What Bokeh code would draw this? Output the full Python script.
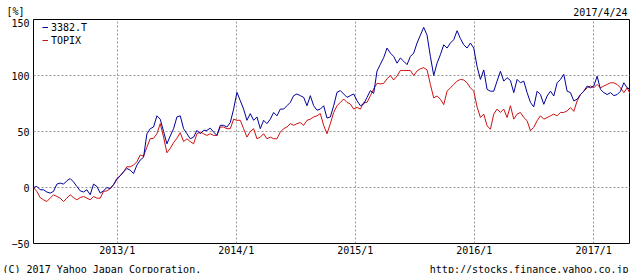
import pandas as pd
from bokeh.plotting import figure
from bokeh.layouts import column, row
from bokeh.models import Range1d, FixedTicker, Label, Legend, LegendItem, ColumnDataSource
from bokeh.embed import file_html
from bokeh.resources import INLINE

start_date = "2012-04-19"
end_date = "2017-04-24"
stock_name = "3382.T"
index_name = "TOPIX"
unit_text = "[%]"
date_text = "2017/4/24"
copyright_text = "(C) 2017 Yahoo Japan Corporation."
url_text = "http://stocks.finance.yahoo.co.jp"

stock_pct = [
    0, 1, -2, -2, -4, -5, -3.5, 3, 4, 3,
    6, 8, 5, 1, -3, -4, -2, -6.5, 3, 1,
    -5, -3, 0, -1, 2.5, 8, 10.5, 14, 17, 15.5,
    12.5, 20, 24.5, 27, 48, 52.5, 54, 64, 61, 50,
    39, 46, 52.5, 63, 64, 52.5, 48, 43.5, 45, 51,
    48, 51, 51, 53, 49.5, 46.5, 55.5, 55.5, 54, 58,
    70, 85, 77.5, 70, 60, 66, 60, 63, 52.5, 60,
    57, 61, 67, 64, 70, 70, 73, 76, 82, 83.5,
    82, 80.5, 73, 82, 73, 69, 70, 73, 62, 63,
    73, 85, 86.5, 83.5, 80.5, 82, 83.5, 77.5, 73, 74.5,
    80.5, 86.5, 84, 104, 110, 116, 124.5, 120, 117, 111,
    115.6, 112.7, 109.7, 117, 120, 129, 136, 143, 136, 117,
    100, 111, 118.6, 127.4, 124.5, 129, 132, 140, 133, 127.4,
    124.5, 129, 124.5, 108, 96.5, 105, 87.6, 86, 86, 95,
    103.8, 95, 98, 95.5, 84.7, 96.5, 93.5, 95, 84.7, 76,
    72, 86, 83, 74.3, 81.7, 86, 81.7, 93.5, 96.5, 101,
    86, 84.7, 77.3, 78.8, 83, 86, 90.6, 89, 90.6, 99.4,
    87.6, 84.7, 83, 84.7, 82, 83, 86, 93.5, 89, 87.6,
]

topix_pct = [
    0, -3.5, -9, -11, -12.5, -9.5, -6.5, -8, -9.5, -12.5,
    -9.5, -6.5, -9, -11, -9, -8, -9.5, -11, -8, -9.5,
    -9.5, -3.5, -3, -1, 2.5, 7, 10.5, 14, 18.5, 18.5,
    20, 23, 29, 28, 36, 43.5, 44, 48, 57, 45,
    31, 35, 40, 44, 49, 41, 43.5, 41, 39, 48,
    49.5, 48, 46.5, 48, 46.5, 46.5, 54, 54, 52.5, 52.5,
    61, 60, 60, 52.5, 45, 50, 52.5, 43.5, 45, 48,
    43.5, 45, 43.5, 43.5, 49.5, 52.5, 54, 57, 55.5, 57,
    58, 55.5, 60, 61, 63, 64, 66, 55.5, 48, 57,
    67, 73, 76, 79, 76, 74.5, 70, 71.5, 70, 76,
    76, 82, 88, 93, 92.5, 93, 97, 100, 96, 99.5,
    104.5, 104.5, 104.5, 104.5, 100, 104, 106, 107, 105, 92,
    80, 81.7, 78.8, 74, 86, 89, 92, 95, 96.5, 96,
    93.5, 89, 86, 72, 62.5, 65.5, 55, 52, 65.5, 70,
    67, 70, 62.5, 73, 61, 65.5, 67, 62.5, 59.6, 50.7,
    53.7, 59.6, 64, 61, 62.5, 64, 65.5, 64, 67, 67,
    68.4, 71.4, 68, 77.3, 83, 86, 89, 90.6, 89, 92,
    89, 90.6, 92, 93.5, 93.5, 92, 89, 84.7, 89, 83,
]

year_ticks = ["2013-01-01", "2014-01-01", "2015-01-01", "2016-01-01", "2017-01-01"]
year_labels = ["2013/1", "2014/1", "2015/1", "2016/1", "2017/1"]
y_ticks = [-50, 0, 50, 100, 150]
y_grid = [0, 50, 100]

dates = pd.date_range(start_date, end_date, periods=len(stock_pct))
src = ColumnDataSource(dict(date=dates, stock=stock_pct, topix=topix_pct))

FONT = "DejaVu Sans Mono"
W = 630


def strip(h):
    s = figure(width=W, height=h, output_backend="svg", toolbar_location=None,
               x_axis_location=None, y_axis_location=None,
               x_range=Range1d(0, 1), y_range=Range1d(0, 1),
               min_border=0, min_border_left=0, min_border_right=0,
               min_border_top=0, min_border_bottom=0)
    s.outline_line_color = None
    s.background_fill_color = "white"
    s.border_fill_color = "white"
    s.grid.visible = False
    return s


def txt(fig, s, x, y, align="left"):
    fig.add_layout(Label(x=x, y=y, x_units="screen", y_units="screen", text=s,
                         text_font=FONT, text_font_size="10px", text_color="black",
                         text_align=align, text_baseline="alphabetic"))


top = strip(18)
txt(top, unit_text, 6, 7)
txt(top, date_text, 627, 6, "right")

p = figure(width=W, height=240, x_axis_type="datetime",
           output_backend="svg", toolbar_location=None,
           x_range=Range1d(pd.Timestamp(start_date), pd.Timestamp(end_date)),
           y_range=Range1d(-50, 150),
           min_border_left=33, min_border_right=0, min_border_top=1, min_border_bottom=13)
p.background_fill_color = "white"
p.border_fill_color = "white"
p.outline_line_color = "black"
p.outline_line_width = 1

r_topix = p.line("date", "topix", source=src, line_color="#CC1111", line_width=1)
r_stock = p.line("date", "stock", source=src, line_color="#000099", line_width=1)

tick_ms = [pd.Timestamp(t).value / 1e6 for t in year_ticks]
p.xaxis.ticker = FixedTicker(ticks=tick_ms)
p.xaxis.major_label_overrides = {t: l for t, l in zip(tick_ms, year_labels)}
p.yaxis.ticker = FixedTicker(ticks=y_ticks)

for ax in (p.xaxis[0], p.yaxis[0]):
    ax.axis_line_color = None
    ax.major_tick_out = 0
    ax.major_tick_in = 0
    ax.minor_tick_out = 0
    ax.minor_tick_in = 0
    ax.major_label_text_font = FONT
    ax.major_label_text_font_size = "10px"
    ax.major_label_text_color = "black"
p.xaxis.major_label_standoff = 1
p.yaxis.major_label_standoff = 4

p.xgrid.ticker = FixedTicker(ticks=tick_ms)
p.ygrid.ticker = FixedTicker(ticks=y_grid)
for g in (p.xgrid[0], p.ygrid[0]):
    g.grid_line_color = "#999999"
    g.grid_line_dash = "2 2"
    g.grid_line_width = 1

legend = Legend(items=[LegendItem(label=stock_name, renderers=[r_stock]),
                       LegendItem(label=index_name, renderers=[r_topix])],
                location=(9, 197), border_line_color=None, background_fill_alpha=0,
                label_text_font=FONT, label_text_font_size="10px", label_text_color="black",
                glyph_width=6, glyph_height=12, label_height=12, label_standoff=3,
                spacing=1, padding=2, margin=0)
p.add_layout(legend)

bottom = strip(15)
txt(bottom, copyright_text, 2, 4)
txt(bottom, url_text, 628, 4, "right")

layout = column(row(top), p, row(bottom), spacing=0)
open("out.html", "w").write(file_html(layout, INLINE))
